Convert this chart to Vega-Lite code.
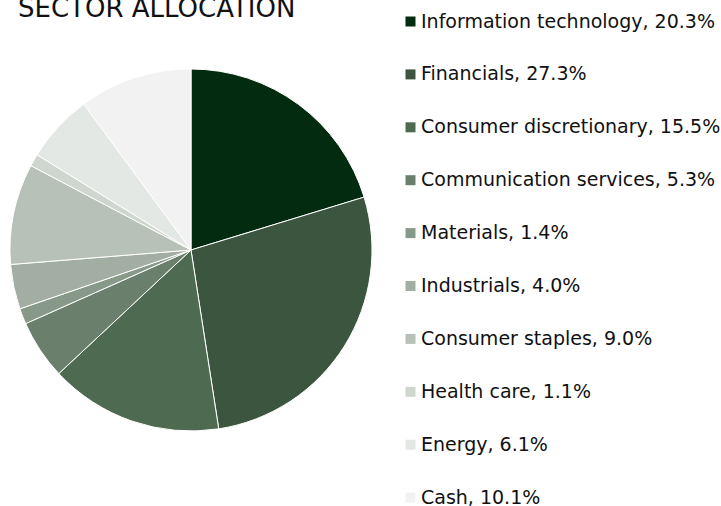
{
  "$schema": "https://vega.github.io/schema/vega-lite/v6.json",
  "width": 382,
  "height": 500,
  "padding": {"left": 0, "top": 0, "right": 339, "bottom": 6},
  "autosize": {"type": "none"},
  "background": "white",
  "title": {
    "text": "SECTOR ALLOCATION",
    "anchor": "start",
    "frame": "group",
    "orient": "top",
    "offset": -22,
    "dx": 18,
    "fontSize": 26,
    "font": "DejaVu Sans",
    "fontWeight": "normal",
    "color": "#111111"
  },
  "data": {
    "values": [
      {"i": 1, "sector": "Information technology, 20.3%", "pct": 20.3},
      {"i": 2, "sector": "Financials, 27.3%", "pct": 27.3},
      {"i": 3, "sector": "Consumer discretionary, 15.5%", "pct": 15.5},
      {"i": 4, "sector": "Communication services, 5.3%", "pct": 5.3},
      {"i": 5, "sector": "Materials, 1.4%", "pct": 1.4},
      {"i": 6, "sector": "Industrials, 4.0%", "pct": 4.0},
      {"i": 7, "sector": "Consumer staples, 9.0%", "pct": 9.0},
      {"i": 8, "sector": "Health care, 1.1%", "pct": 1.1},
      {"i": 9, "sector": "Energy, 6.1%", "pct": 6.1},
      {"i": 10, "sector": "Cash, 10.1%", "pct": 10.1}
    ]
  },
  "mark": {"type": "arc", "outerRadius": 181, "stroke": "white", "strokeWidth": 1},
  "encoding": {
    "theta": {"field": "pct", "type": "quantitative", "stack": true},
    "order": {"field": "i", "type": "quantitative"},
    "color": {
      "field": "sector",
      "type": "nominal",
      "sort": null,
      "scale": {
        "domain": [
          "Information technology, 20.3%",
          "Financials, 27.3%",
          "Consumer discretionary, 15.5%",
          "Communication services, 5.3%",
          "Materials, 1.4%",
          "Industrials, 4.0%",
          "Consumer staples, 9.0%",
          "Health care, 1.1%",
          "Energy, 6.1%",
          "Cash, 10.1%"
        ],
        "range": ["#032b0f", "#3b553e", "#4e6b52", "#6a7f6c", "#879a89", "#a2aea3", "#b8c1b8", "#cfd6cf", "#e3e8e4", "#f2f2f2"]
      },
      "legend": {
        "title": null,
        "orient": "none",
        "legendX": 401,
        "legendY": 12,
        "symbolType": "square",
        "symbolSize": 100,
        "symbolStrokeWidth": 0,
        "labelFont": "DejaVu Sans",
        "labelFontSize": 19,
        "labelColor": "#111111",
        "labelOffset": 1,
        "rowPadding": 32.9,
        "labelLimit": 400
      }
    }
  },
  "config": {"view": {"stroke": null}}
}
